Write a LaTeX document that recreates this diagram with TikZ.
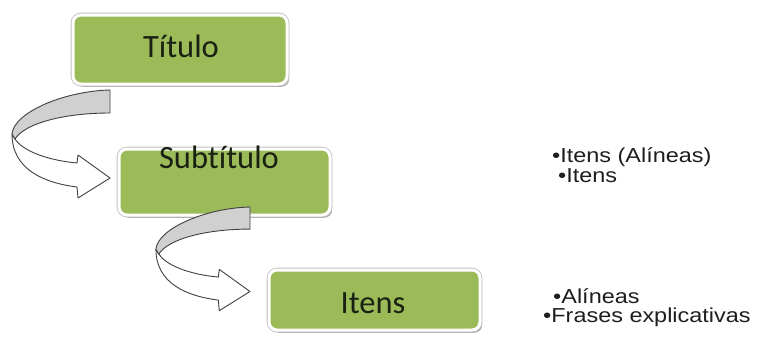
\documentclass[tikz,border=0pt]{standalone}
\usepackage{fontspec}
\setmainfont{Carlito}[RawFeature={-liga}]
\newfontfamily\arialfont[FakeStretch=1.16]{Liberation Sans}
\usetikzlibrary{shadows}
\definecolor{boxgreen}{HTML}{9BBB59}
\definecolor{boxtext}{HTML}{1A2012}
\definecolor{sidetext}{HTML}{1E1E1E}
\definecolor{ribbongray}{HTML}{D0D0D0}
\definecolor{ribbonline}{HTML}{404040}
\tikzset{
  greenbox/.style={rectangle, rounded corners=8pt, fill=boxgreen,
    drop shadow={shadow xshift=2.2pt, shadow yshift=-2.8pt, opacity=0.75, fill=gray!85},
    preaction={draw=gray!50, line width=4.6pt},
    draw=white, line width=3pt, inner sep=0pt},
  boxlabel/.style={font=\fontsize{32.5}{36}\selectfont, text=boxtext, anchor=base, inner sep=0pt},
  sidelabel/.style={font=\arialfont\fontsize{20.2}{22}\selectfont, text=sidetext, anchor=base west, inner sep=0pt},
  ribbontop/.style={fill=ribbongray, draw=ribbonline, line width=0.9pt, line join=round},
  ribbonfront/.style={fill=white, draw=ribbonline, line width=0.9pt, line join=round},
}
\newcommand{\uturnarrow}{%
  \path[ribbonfront] (-98,44) -- (-95,49) .. controls (-88,60) and (-65,70) .. (-33,73)
    -- (-32,65) -- (0,88) -- (-32,108) -- (-33,97)
    .. controls (-65,93) and (-98,80) .. (-98,44) -- cycle;
  \path[ribbontop] (0,0) -- (0,23) .. controls (-45,23) and (-85,33) .. (-95,49)
    -- (-98,44) .. controls (-96,22) and (-45,1) .. (0,0) -- cycle;
}
\begin{document}
\begin{tikzpicture}[x=1pt, y=-1pt]
\useasboundingbox (0,0) rectangle (761,338);
% boxes
\node[greenbox, minimum width=214pt, minimum height=69pt] (titulo) at (180,49.5) {};
\node[greenbox, minimum width=211pt, minimum height=66pt] (subtitulo) at (224.5,182) {};
\node[greenbox, minimum width=211pt, minimum height=60pt] (itens) at (374.5,300) {};
% labels
\node[boxlabel] (tituloL) at (181,57) {Título};
\node[boxlabel] (subtituloL) at (219,168) {Subtítulo};
\node[boxlabel] (itensL) at (373,313) {Itens};
% arrows
\begin{scope}[shift={(110,90)}]
  \uturnarrow
\end{scope}
\begin{scope}[shift={(250,207)}, scale=0.96]
  \uturnarrow
\end{scope}
% side texts
\node[sidelabel] (s1) at (552,162) {•Itens (Alíneas)};
\node[sidelabel] (s2) at (558,182) {•Itens};
\node[sidelabel] (s3) at (553,303) {•Alíneas};
\node[sidelabel] (s4) at (543,322) {•Frases explicativas};
\end{tikzpicture}
\end{document}
